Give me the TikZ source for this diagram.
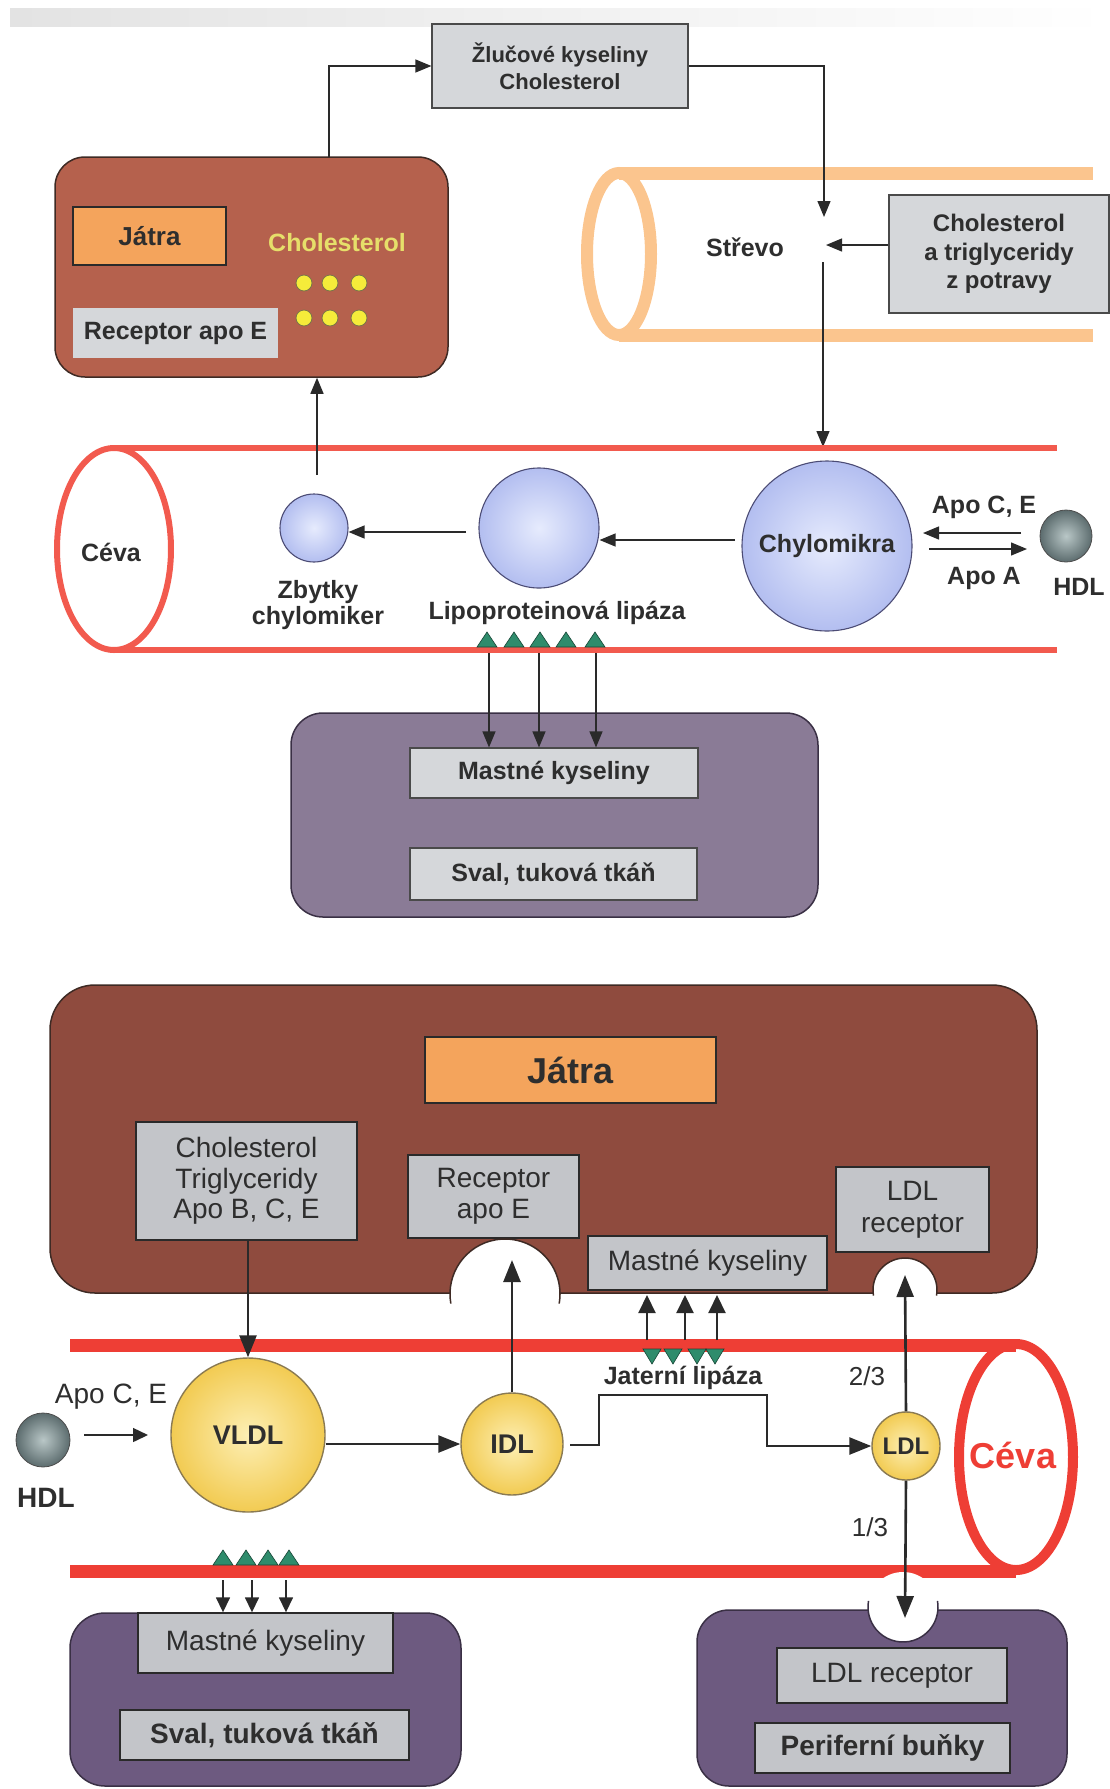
\documentclass[tikz,border=0pt]{standalone}
\usepackage{fontspec}
\setmainfont{Liberation Sans}
\usetikzlibrary{arrows.meta,calc}
\definecolor{txt}{HTML}{2E2E2E}
\definecolor{lineC}{HTML}{2A2A2A}
\definecolor{gtop}{HTML}{D5D7DA}
\definecolor{gbot}{HTML}{C3C5C9}
\definecolor{boxline}{HTML}{4A4A4A}
\definecolor{liverT}{HTML}{B5614D}
\definecolor{liverB}{HTML}{8F4B3E}
\definecolor{liverLine}{HTML}{3E2A24}
\definecolor{jatraC}{HTML}{F4A45C}
\definecolor{cholY}{HTML}{E6DF6A}
\definecolor{dotY}{HTML}{F5EC3A}
\definecolor{intestC}{HTML}{FBC58E}
\definecolor{vesT}{HTML}{F25A4E}
\definecolor{vesB}{HTML}{EE3E35}
\definecolor{purpT}{HTML}{8A7B96}
\definecolor{purpB}{HTML}{6D5A80}
\definecolor{purpLine}{HTML}{3A3045}
\definecolor{triG}{HTML}{2F8C6C}
\definecolor{blueIn}{HTML}{E6EBFD}
\definecolor{blueOut}{HTML}{B3BEF0}
\definecolor{yelIn}{HTML}{FDEFB4}
\definecolor{yelOut}{HTML}{F2CB52}
\definecolor{hdlIn}{HTML}{B9C7C7}
\definecolor{hdlOut}{HTML}{5C6C6E}
\begin{document}
\begin{tikzpicture}[x=1pt,y=-1pt,
  every node/.style={text=txt},
  gboxT/.style={draw=boxline, line width=1.2pt, fill=gtop, inner sep=0pt, align=center},
  gboxB/.style={draw=lineC, line width=1.4pt, fill=gbot, inner sep=0pt, align=center},
  bT/.style={font=\fontsize{25}{28}\selectfont\bfseries},
  rB/.style={font=\fontsize{28}{31}\selectfont},
  bB/.style={font=\fontsize{28}{31}\selectfont\bfseries},
  sphBlue/.style={circle, inner sep=0pt, draw=black!60!blue!40!gray, line width=1.1pt, inner color=blueIn, outer color=blueOut},
  sphYel/.style={circle, inner sep=0pt, draw=black!70!yellow!60!brown, line width=1.4pt, inner color=yelIn, outer color=yelOut},
  sphHdl/.style={circle, inner sep=0pt, draw=black!70, line width=0.8pt, inner color=hdlIn, outer color=hdlOut},
  arrT/.style={line width=1.3pt, draw=lineC, -{Triangle[length=16pt,width=13pt]}},
  arrB/.style={line width=2.6pt, draw=lineC, -{Triangle[length=22pt,width=17pt]}},
  arrM/.style={line width=2.2pt, draw=lineC, -{Triangle[length=18pt,width=17pt]}},
  arrS/.style={line width=1.5pt, draw=lineC, -{Triangle[length=15pt,width=14pt]}},
  tri/.style={fill=triG, draw=triG!50!black, line width=0.6pt},
  organ/.style={inner sep=0pt, line width=1.5pt},
]
\useasboundingbox (0,0) rectangle (1110,1789);
\shade[left color=black!11, right color=white] (10,8) rectangle (1110,26);

% ================= TOP PART =================
\node[gboxT, minimum width=256, minimum height=84, font=\fontsize{22}{27}\selectfont\bfseries] (bile) at (560,66) {Žlučové kyseliny\\Cholesterol};

\node[organ, draw=liverLine, fill=liverT, rounded corners=30pt, minimum width=393, minimum height=220] (liverT) at (251.5,267) {};
\node[draw=lineC, line width=1.2pt, fill=jatraC, inner sep=0pt, minimum width=153, minimum height=58, font=\fontsize{26}{30}\selectfont\bfseries] (jatraT) at (149.5,236) {Játra};
\node[font=\fontsize{25}{28}\selectfont\bfseries, text=cholY] (cholT) at (337,243) {Cholesterol};
\foreach \x in {304,330,359} \foreach \y in {283,318}
  \node[circle, fill=dotY, draw=black!60!yellow, line width=0.8pt, minimum size=16, inner sep=0pt] (dot-\x-\y) at (\x,\y) {};
\node[fill=gtop, inner sep=0pt, minimum width=205, minimum height=50, bT] (recT) at (175.5,333) {Receptor apo E};

% intestine
\draw[intestC, line width=13pt] (619,173) -- (1093,173) (619,335) -- (1093,335);
\draw[intestC, line width=12pt] (619,254) ellipse [x radius=32, y radius=81];
\node[bT] (strevo) at (745,247) {Střevo};
\node[gboxT, minimum width=220, minimum height=118, font=\fontsize{24}{28.5}\selectfont\bfseries] (food) at (999,254) {Cholesterol\\a triglyceridy\\z potravy};

\coordinate (lt) at (329,157);
\draw[arrT] (lt) |- (bile.west);
\coordinate (sIn) at (824,217);
\draw[arrT] (bile.east) -| (sIn);
\coordinate (fIn) at (826,245);
\draw[arrT] (food.west |- fIn) -- (fIn);
\coordinate (sOut) at (823,262);
\coordinate (vIn) at (823,447);
\draw[arrT] (sOut) -- (vIn);

% upper vessel
\draw[vesT, line width=6pt] (114,448) -- (1057,448) (114,650) -- (1057,650);
\draw[vesT, line width=6pt] (114,549) ellipse [x radius=57, y radius=101];
\node[bT] (ceva1) at (111,552) {Céva};

\node[sphBlue, minimum size=68] (zbyt) at (314,528) {};
\node[sphBlue, minimum size=120] (lipo) at (539,528) {};
\node[sphBlue, minimum size=170, bT] (chylo) at (827,546) {Chylomikra};
\node[sphHdl, minimum size=52] (hdlT) at (1066,536) {};

\coordinate (c1) at (735,540);
\draw[arrT] (c1) -- (c1 -| lipo.east);
\coordinate (c2) at (466,532);
\draw[arrT] (c2) -- (c2 -| zbyt.east);
\coordinate (c3) at (317,475);
\draw[arrT] (c3) -- (c3 |- liverT.south);
\coordinate (h1) at (1021,533); \coordinate (h1t) at (923,533);
\draw[arrT] (h1) -- (h1t);
\coordinate (h2) at (929,549); \coordinate (h2t) at (1027,549);
\draw[arrT] (h2) -- (h2t);
\node[bT] (apoCE) at (984,507) {Apo C, E};
\node[bT] (apoA) at (984,578) {Apo A};
\node[bT] (hdlTl) at (1079,587) {HDL};
\node[font=\fontsize{25}{26}\selectfont\bfseries, align=center] (zbytL) at (318,605) {Zbytky\\chylomiker};
\node[bT] (lipoL) at (557,613) {Lipoproteinová lipáza};

\foreach \x in {487,514,540,566,595}
  \path[tri] (\x-10,647) -- (\x+10,647) -- (\x,632) -- cycle;

% upper muscle
\node[organ, draw=purpLine, fill=purpT, rounded corners=32pt, minimum width=527, minimum height=204] (musT) at (554.5,815) {};
\node[gboxT, minimum width=288, minimum height=50, bT] (mastT) at (554,773) {Mastné kyseliny};
\node[gboxT, minimum width=287, minimum height=52, bT] (svalT) at (553.5,874) {Sval, tuková tkáň};
\foreach \x in {489,539,596}
  \draw[arrT] (\x,653) -- (\x,653 |- mastT.north);

% ================= BOTTOM PART =================
\node[organ, draw=liverLine, fill=liverB, rounded corners=45pt, minimum width=987, minimum height=308] (liverB) at (543.5,1139) {};
\node[draw=lineC, line width=1.4pt, fill=jatraC, inner sep=0pt, minimum width=291, minimum height=66, font=\fontsize{36}{40}\selectfont\bfseries] (jatraB) at (570.5,1070) {Játra};
\node[gboxB, minimum width=221, minimum height=118, font=\fontsize{28}{30.5}\selectfont] (cholB) at (246.5,1181) {Cholesterol\\Triglyceridy\\Apo B, C, E};
\node[gboxB, minimum width=171, minimum height=83, font=\fontsize{28}{31}\selectfont] (recB) at (493.5,1196.5) {Receptor\\apo E};
\node[gboxB, minimum width=239, minimum height=54, rB] (mastB) at (707.5,1263) {Mastné kyseliny};
\node[gboxB, minimum width=153, minimum height=85, font=\fontsize{28}{32}\selectfont] (ldlrB) at (912.5,1209.5) {LDL\\receptor};

\coordinate (n1) at (505,1294);
\fill[white] (n1) circle [radius=55];
\draw[liverLine, line width=1.5pt] ($(n1)+(170:55)$) arc [start angle=170, end angle=370, radius=55];
\coordinate (n2) at (905,1290);
\fill[white] (n2) circle [radius=32];
\draw[liverLine, line width=1.5pt] ($(n2)+(170:32)$) arc [start angle=170, end angle=370, radius=32];

% lower vessel
\draw[vesB, line width=13pt] (70,1345) -- (1016,1345) (70,1571) -- (1016,1571);
\draw[vesB, line width=10pt] (1016,1457) ellipse [x radius=57, y radius=113];
\node[font=\fontsize{36}{40}\selectfont\bfseries, text=vesB] (ceva2) at (1013,1455) {Céva};

\node[sphYel, minimum size=154, font=\fontsize{27}{30}\selectfont\bfseries] (vldl) at (248,1435) {VLDL};
\node[sphYel, minimum size=102, font=\fontsize{27}{30}\selectfont\bfseries] (idl) at (512,1444) {IDL};
\node[sphYel, minimum size=68, font=\fontsize{24}{27}\selectfont\bfseries] (ldl) at (906,1446) {LDL};
\node[sphHdl, minimum size=54] (hdlB) at (43,1440) {};
\node[bB] (hdlBl) at (46,1498) {HDL};
\node[rB] (apoB) at (111,1397) {Apo C, E};

\draw[arrB] (cholB.south -| vldl.north) -- (vldl.north);
\coordinate (recIn) at (512,1260);
\draw[arrB] (idl.north) -- (recIn);
\coordinate (hb1) at (84,1435); \coordinate (hb2) at (148,1435);
\draw[arrS] (hb1) -- (hb2);
\draw[arrB] (vldl.east |- idl.west) -- (idl.west);
\coordinate (lp0) at (570,1445);
\draw[arrB] (lp0) -- (599,1445) -- (599,1395) -- (767,1395) -- (767,1446) -- (ldl.west);
\node[font=\fontsize{25}{28}\selectfont\bfseries] (jlip) at (683,1378) {Jaterní lipáza};
\coordinate (ldlIn) at (905,1275);
\draw[arrB] (ldl.north) -- (ldlIn);
\coordinate (perIn) at (905,1618);
\node[font=\fontsize{26}{29}\selectfont] (f23) at (867,1376) {2/3};
\node[font=\fontsize{26}{29}\selectfont] (f13) at (870,1527) {1/3};

\foreach \x in {652,673,697,715}
  \path[tri] (\x-9,1349) -- (\x+9,1349) -- (\x,1364) -- cycle;
\foreach \x in {647,685,717}
  \draw[arrM] (\x,1340) -- (\x,1295);
\foreach \x in {223,246,268,289}
  \path[tri] (\x-10,1565) -- (\x+10,1565) -- (\x,1550) -- cycle;

% lower muscle
\node[organ, draw=purpLine, fill=purpB, rounded corners=35pt, minimum width=391, minimum height=173] (musB) at (265.5,1699.5) {};
\node[gboxB, minimum width=255, minimum height=60, rB] (mastBL) at (265.5,1643) {Mastné kyseliny};
\node[gboxB, minimum width=289, minimum height=50, bB] (svalB) at (264.5,1735) {Sval, tuková tkáň};
\foreach \x in {223,252,286}
  \draw[arrS] (\x,1580) -- (\x,1580 |- mastBL.north);

% peripheral cells
\node[organ, draw=purpLine, fill=purpB, rounded corners=32pt, minimum width=370, minimum height=176] (perC) at (882,1698) {};
\coordinate (n3) at (903,1607);
\fill[white] (n3) circle [radius=35];
\draw[purpLine, line width=1.5pt] ($(n3)+(-10:35)$) arc [start angle=-10, end angle=190, radius=35];
\node[gboxB, minimum width=230, minimum height=55, rB] (ldlrP) at (892,1675.5) {LDL receptor};
\node[gboxB, minimum width=255, minimum height=50, bB] (perB) at (882.5,1748) {Periferní buňky};
\draw[arrB] (ldl.south) -- (perIn);
\end{tikzpicture}
\end{document}
